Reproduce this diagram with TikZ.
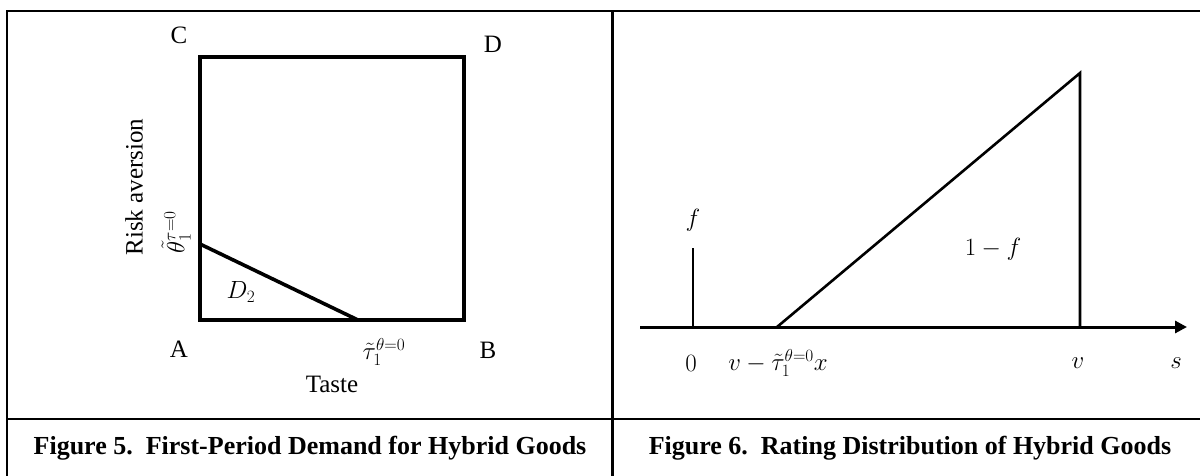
\documentclass[tikz,border=0pt]{standalone}
\usepackage{amsmath}
\usepackage{fontspec}
\setmainfont{Liberation Serif}
\usepackage{tikz}
\usetikzlibrary{arrows.meta, positioning}

\begin{document}
\begin{tikzpicture}[
    x=1pt, y=-1pt,
    frame/.style={line width=2.5pt},
    edge/.style={line width=3.6pt, line join=miter},
    curve/.style={line width=2.6pt},
    axis/.style={line width=3pt, -{Triangle[length=12pt, width=12pt]}},
    lbl/.style={inner sep=0pt, font=\fontsize{25}{30}\selectfont},
    mlbl/.style={inner sep=0pt, font=\fontsize{24}{28}\selectfont},
    caption/.style={inner sep=0pt, font=\fontsize{26}{31}\selectfont\bfseries}
]
\useasboundingbox (0,0) rectangle (1200,475);

% Table frame
\draw[frame] (7,480) -- (7,11) -- (1205,11);
\draw[frame] (612.5,11) -- (612.5,480);
\draw[frame] (7,419) -- (1205,419);

% Figure 5: demand square
\coordinate (A) at (200,320);
\coordinate (B) at (464,320);
\coordinate (C) at (200,57);
\coordinate (D) at (464,57);
\coordinate (thetacut) at (200,244);
\coordinate (taucut) at (358,320);
\draw[edge] (A) -- (B) -- (D) -- (C) -- cycle;
\draw[edge] (thetacut) -- (taucut);

\node (labC) [lbl] at (179,35) {C};
\node (labD) [lbl] at (493,44) {D};
\node (labA) [lbl] at (179,349) {A};
\node (labB) [lbl] at (488,350) {B};
\node (labtau) [mlbl, font=\fontsize{26}{30}\selectfont] at (384,352) {$\tilde{\tau}_1^{\theta=0}$};
\node (taste) [lbl] at (332,384) {Taste};
\node (risk) [lbl, rotate=90] at (134,187) {Risk aversion};
\node (labtheta) [mlbl, rotate=90] at (176,232) {$\tilde{\theta}_1^{\tau=0}$};
\node (dtwo) [mlbl] at (241,292) {$D_2$};

% Figure 6: rating distribution
\coordinate (axL) at (640,327);
\coordinate (axR) at (1187,327);
\coordinate (spikeB) at (693,327);
\coordinate (spikeT) at (693,248);
\coordinate (rampL) at (777,327);
\coordinate (rampT) at (1080,73);
\coordinate (rampB) at (1080,327);
\draw[axis] (axL) -- (axR);
\draw[curve] (spikeB) -- (spikeT);
\draw[curve] (rampL) -- (rampT) -- (rampB);

\node (labf) [mlbl] at (693,220) {$f$};
\node (labonef) [mlbl] at (993,249) {$1-f$};
\node (tickzero) [mlbl] at (691,363) {$0$};
\node (tickcut) [mlbl] at (778,363) {$v-\tilde{\tau}_1^{\theta=0}x$};
\node (tickv) [mlbl] at (1078,363) {$v$};
\node (ticks) [mlbl] at (1176,363) {$s$};

% Captions
\node (capfive) [caption] at (310,448) {Figure 5.\ \ First-Period Demand for Hybrid Goods};
\node (capsix) [caption] at (910,448) {Figure 6.\ \ Rating Distribution of Hybrid Goods};

\end{tikzpicture}
\end{document}
